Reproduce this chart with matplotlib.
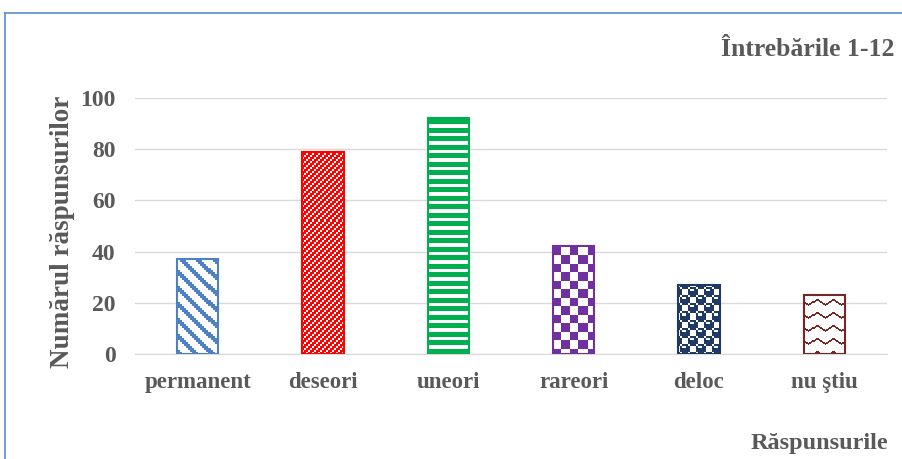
import numpy as np
import matplotlib
matplotlib.use("Agg")
import matplotlib.pyplot as plt
from matplotlib.lines import Line2D

categories = ["permanent", "deseori", "uneori", "rareori", "deloc", "nu ştiu"]
values = [37, 79, 92, 42, 27, 23]
colors = ["#4E81C4", "#FF0000", "#00B050", "#7030A0", "#1F3864", "#772626"]
patterns = ["bdiag", "fdiag", "horiz", "checker", "sphere", "wave"]
yticks = [0, 20, 40, 60, 80, 100]
title = "Întrebările 1-12"
xlabel = "Răspunsurile"
ylabel = "Numărul răspunsurilor"

W, H, DPI = 903, 459, 100
TXT = "#595959"
plt.rcParams["font.family"] = ["Liberation Serif", "DejaVu Serif"]
plt.rcParams["font.weight"] = "bold"

fig = plt.figure(figsize=(W / DPI, H / DPI), dpi=DPI)
L, R, T, B = 135, 887, 98, 354
ax = fig.add_axes([L / W, 1 - B / H, (R - L) / W, (B - T) / H])

# frame lines (top & left edges of the chart area border)
fig.add_artist(Line2D([5 / W, 5 / W], [0, 1 - 13 / H], transform=fig.transFigure,
                      color="#5B8BD0", lw=1.2))
fig.add_artist(Line2D([5 / W, 1], [1 - 13 / H, 1 - 13 / H], transform=fig.transFigure,
                      color="#5B8BD0", lw=1.2))

x = np.arange(len(categories))
width = 0.33
ax.set_xlim(-0.5, len(categories) - 0.5)
ax.set_ylim(0, 100)

# pixel grid for patterns
aw, ah = R - L, B - T
Xg, Yg = np.meshgrid(np.arange(aw), np.arange(ah))
Xa = Xg + L
Ya = Yg + T


def pattern_mask(name):
    if name == "bdiag":
        return ((Xa // 2 - Ya // 2) % 8) < 3
    if name == "fdiag":
        return ((Xa // 2 * 2 + Ya) % 6) < 4
    if name == "horiz":
        return ((2 * Ya) % 17) < 10
    if name == "checker":
        return ((2 * Xa // 17 + 2 * Ya // 17) % 2) == 0
    if name == "sphere":
        bm = np.array([0x77, 0x98, 0xF8, 0xF8, 0x77, 0x89, 0x8F, 0x8F])
        bits = np.array([[(r >> (7 - c)) & 1 for c in range(8)] for r in bm])
        return bits[(Ya // 2) % 8, (Xa // 2) % 8] == 1
    if name == "wave":
        t = Xa % 16
        off = ((8 - np.abs(t - 8)) * 2) // 3
        return ((Ya - off) % 13) < 2
    return np.zeros_like(Xa, dtype=bool)


bars = ax.bar(x, values, width=width, color="white", edgecolor="none", zorder=2)
for rect, col, pat in zip(bars, colors, patterns):
    rgb = np.array(matplotlib.colors.to_rgb(col))
    m = pattern_mask(pat)
    img = np.ones((ah, aw, 3))
    img[m] = rgb
    im = ax.imshow(img, extent=(-0.5, len(categories) - 0.5, 0, 100), aspect="auto",
                   interpolation="nearest", origin="upper", zorder=2.5)
    im.set_clip_path(rect)
ax.bar(x, values, width=width, fill=False, edgecolor=colors, linewidth=1.5, zorder=3)

ax.set_xlim(-0.5, len(categories) - 0.5)
ax.set_ylim(0, 100)
ax.set_yticks(yticks)
ax.set_xticks(x)
ax.set_xticklabels(categories)
ax.yaxis.grid(True, color="#D9D9D9", lw=1)
ax.set_axisbelow(True)
for s in ["top", "right", "left"]:
    ax.spines[s].set_visible(False)
ax.spines["bottom"].set_color("#D9D9D9")
ax.tick_params(axis="both", length=0, colors=TXT)
ax.tick_params(axis="y", pad=14, labelsize=17)
ax.tick_params(axis="x", pad=13, labelsize=16.5)
for lab in ax.get_xticklabels() + ax.get_yticklabels():
    lab.set_fontweight("bold")

fig.text(63 / W, 1 - 232 / H, ylabel, rotation=90, ha="center", va="center",
         fontsize=19.5, color=TXT, fontweight="bold")
fig.text(895 / W, 1 - 50 / H, title, ha="right", va="center",
         fontsize=18.5, color=TXT, fontweight="bold")
fig.text(888 / W, 1 - 443 / H, xlabel, ha="right", va="center",
         fontsize=17.5, color=TXT, fontweight="bold")

fig.savefig("out.png", dpi=DPI)
